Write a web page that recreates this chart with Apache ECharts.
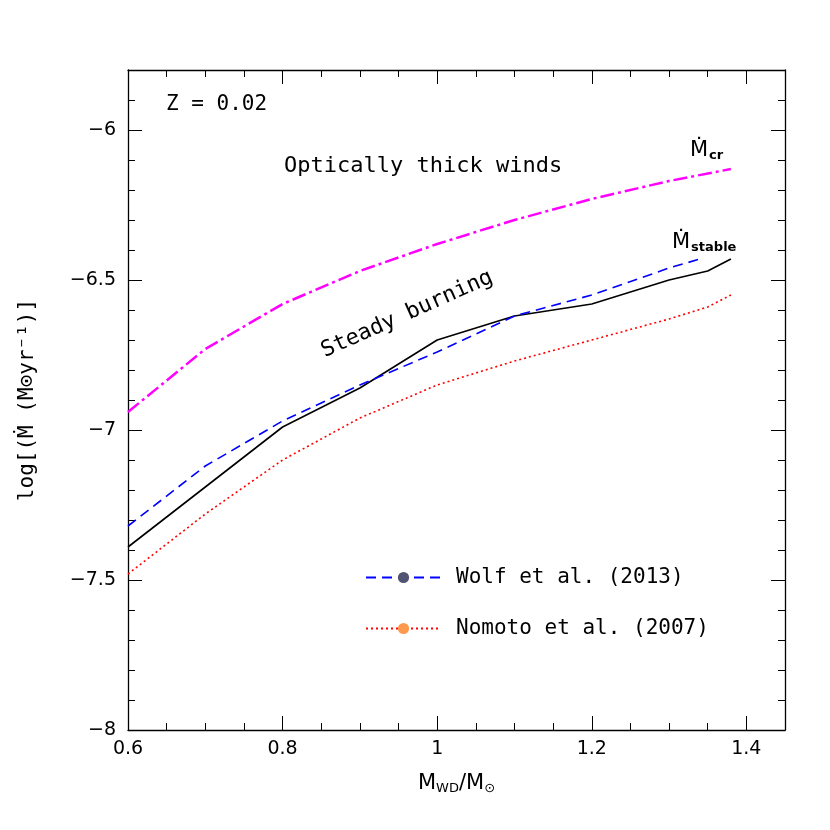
<!DOCTYPE html>
<html><head><meta charset="utf-8">
<script src="https://cdn.jsdelivr.net/npm/echarts@6/dist/echarts.min.js"></script>
<style>html,body{margin:0;background:#fff}#c{width:830px;height:830px}</style>
</head><body><div id="c"></div>
<script>
const crX = [0.6, 0.7, 0.8, 0.9, 1.0, 1.1, 1.2, 1.3, 1.38]
const crY = [-6.94, -6.73, -6.58, -6.47, -6.38, -6.30, -6.23, -6.17, -6.13]
const stX = [0.6, 0.7, 0.8, 0.9, 1.0, 1.1, 1.2, 1.25, 1.3, 1.35, 1.38]
const stY = [-7.39, -7.19, -6.99, -6.86, -6.70, -6.62, -6.58, -6.54, -6.50, -6.47, -6.43]
const wolfX = [0.6, 0.7, 0.8, 0.9, 1.0, 1.1, 1.2, 1.3, 1.34]
const wolfY = [-7.32, -7.12, -6.97, -6.85, -6.74, -6.62, -6.55, -6.46, -6.43]
const nomX = [0.6, 0.7, 0.8, 0.9, 1.0, 1.1, 1.2, 1.3, 1.35, 1.38]
const nomY = [-7.48, -7.28, -7.10, -6.96, -6.85, -6.77, -6.70, -6.63, -6.59, -6.55]

const pairs = (xs, ys) => xs.map((x, i) => [x, ys[i]])
const font = 'DejaVu Sans'
const mono = 'DejaVu Sans Mono'
const base = {
  type: 'value', axisLine: { lineStyle: { color: '#000', width: 1.3 } },
  axisTick: { inside: true, length: 14, lineStyle: { color: '#000' } },
  minorTick: { show: true, splitNumber: 4, length: 7, lineStyle: { color: '#000' } },
  splitLine: { show: false }
}
const xb = { ...base, min: 0.6, max: 1.45, interval: 0.2 }
const yb = { ...base, min: -8, max: -5.8, interval: 0.5, minorTick: { ...base.minorTick, splitNumber: 5 } }
const chart = echarts.init(document.getElementById('c'))
chart.setOption({
  animation: false,
  grid: { left: 128, right: 45, top: 70, bottom: 100 },
  xAxis: [
    { ...xb, position: 'bottom', axisLabel: { color: '#000', fontSize: 19, fontFamily: font, margin: 10,
      formatter: v => v > 1.41 ? '' : String(+v.toFixed(1)) },
      name: '{m|M}{s|WD}{m|/M}{s|⊙}', nameLocation: 'middle', nameGap: 42,
      nameTextStyle: { rich: { m: { fontSize: 21, fontFamily: font }, s: { fontSize: 13, fontFamily: font, verticalAlign: 'bottom', padding: [10, 0, 0, 0] } } } },
    { ...xb, position: 'top', axisLabel: { show: false } }
  ],
  yAxis: [
    { ...yb, position: 'left', axisLabel: { color: '#000', fontSize: 19, fontFamily: font, margin: 12,
      formatter: v => v > -5.9 ? '' : String(v).replace('-', '−') },
      name: 'log[(Ṁ (M⊙yr⁻¹)]', nameLocation: 'middle', nameGap: 90,
      nameTextStyle: { color: '#000', fontSize: 21, fontFamily: mono } },
    { ...yb, position: 'right', axisLabel: { show: false } }
  ],
  legend: {
    orient: 'vertical', left: 360, top: 562, itemGap: 30, itemWidth: 75, itemHeight: 14,
    data: ['Wolf et al. (2013)', 'Nomoto et al. (2007)'],
    textStyle: { fontSize: 21, fontFamily: mono, color: '#000', padding: [0, 0, 0, 10] }
  },
  series: [
    { name: 'cr', type: 'line', data: pairs(crX, crY), symbol: 'none',
      lineStyle: { color: '#ff00ff', width: 2.5, type: [14, 4, 3, 4] } },
    { name: 'stable', type: 'line', data: pairs(stX, stY), symbol: 'none',
      lineStyle: { color: '#000', width: 1.6 } },
    { name: 'Wolf et al. (2013)', type: 'line', data: pairs(wolfX, wolfY), symbol: 'none',
      lineStyle: { color: '#0000ff', width: 1.6, type: [10, 6] } },
    { name: 'Nomoto et al. (2007)', type: 'line', data: pairs(nomX, nomY), symbol: 'none',
      lineStyle: { color: '#ff0000', width: 1.6, type: [2, 3] } }
  ],
  graphic: [
    { type: 'text', left: 166, top: 94, style: { text: 'Z = 0.02', fontSize: 21, fontFamily: mono, fill: '#000' } },
    { type: 'text', left: 284, top: 155, style: { text: 'Optically thick winds', fontSize: 22, fontFamily: mono, fill: '#000' } },
    { type: 'text', x: 318, y: 342, rotation: 0.42, style: { text: 'Steady burning', fontSize: 22, fontFamily: mono, fill: '#000' } },
    { type: 'text', left: 690, top: 140, style: { text: '{m|Ṁ}{s|cr}', rich: { m: { fontSize: 21, fontFamily: font }, s: { fontSize: 13, fontFamily: font, fontWeight: 'bold', padding: [10, 0, 0, 1] } } } },
    { type: 'text', left: 672, top: 232, style: { text: '{m|Ṁ}{s|stable}', rich: { m: { fontSize: 21, fontFamily: font }, s: { fontSize: 13, fontFamily: font, fontWeight: 'bold', padding: [10, 0, 0, 1] } } } }
  ]
})
</script></body></html>
